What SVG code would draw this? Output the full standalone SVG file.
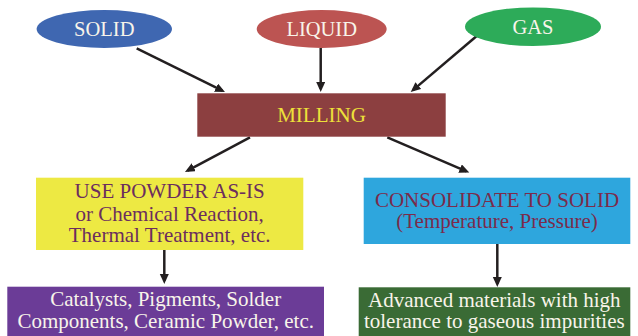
<svg xmlns="http://www.w3.org/2000/svg" width="638" height="336" viewBox="0 0 638 336">
  <style>
    text { font-family: 'Liberation Serif', 'DejaVu Serif', serif; text-anchor: middle; }
    .lbl { font-size: 20.5px; fill: #F8F4EA; }
    .dark { font-size: 21px; }
    .conn { stroke: #231F20; stroke-width: 2.5; fill: none; marker-end: url(#ah); }
  </style>
  <defs>
    <marker id="ah" markerUnits="userSpaceOnUse" markerWidth="12" markerHeight="10" refX="7" refY="4.5" orient="auto">
      <path d="M0,0 L10,4.5 L0,9 Z" fill="#231F20"/>
    </marker>
  </defs>
  <rect width="638" height="336" fill="#FFFFFF"/>

  <g id="connectors">
    <path class="conn" d="M136.7,48.3 L222.3,90.7"/>
    <path class="conn" d="M320.7,48 L320.7,89"/>
    <path class="conn" d="M476.7,36 L413,90.1"/>
    <path class="conn" d="M250,137.3 L187.6,170.6"/>
    <path class="conn" d="M387.3,137.3 L466.5,171.3"/>
    <path class="conn" d="M164.3,250 L164.3,281"/>
    <path class="conn" d="M497.3,244 L497.3,284"/>
  </g>

  <g id="solid">
    <ellipse cx="104.3" cy="29" rx="67.7" ry="19" fill="#3F67B1"/>
    <text class="lbl" x="104.3" y="36" font-family="Liberation Serif, serif">SOLID</text>
  </g>
  <g id="liquid">
    <ellipse cx="321.7" cy="29" rx="65" ry="19" fill="#BC5452"/>
    <text class="lbl" x="321.7" y="36">LIQUID</text>
  </g>
  <g id="gas">
    <ellipse cx="533" cy="26.7" rx="68" ry="19.3" fill="#2DAB59"/>
    <text class="lbl" x="533" y="33.5">GAS</text>
  </g>

  <g id="milling">
    <rect x="197.3" y="93.3" width="248.4" height="43.4" fill="#8C3F40"/>
    <text class="dark" x="321.5" y="121.7" fill="#EDE03A">MILLING</text>
  </g>

  <g id="use-powder">
    <rect x="36" y="177.7" width="267.3" height="72.3" fill="#EDE943"/>
    <text class="dark" x="169.7" y="197.8" fill="#6B2D5E">USE POWDER AS-IS</text>
    <text class="dark" x="169.7" y="220.5" fill="#6B2D5E">or Chemical Reaction,</text>
    <text class="dark" x="169.7" y="242" fill="#6B2D5E">Thermal Treatment, etc.</text>
  </g>

  <g id="consolidate">
    <rect x="363.7" y="177.7" width="266.6" height="66.3" fill="#2EA6DD"/>
    <text class="dark" x="497" y="207.3" fill="#7B2B4B">CONSOLIDATE TO SOLID</text>
    <text class="dark" x="497" y="228.3" fill="#7B2B4B">(Temperature, Pressure)</text>
  </g>

  <g id="catalysts">
    <rect x="7.3" y="286.7" width="316.7" height="49.3" fill="#6B3C97"/>
    <text class="dark" x="165.7" y="306" fill="#F8F4EA">Catalysts, Pigments, Solder</text>
    <text class="dark" x="165.7" y="328.3" fill="#F8F4EA">Components, Ceramic Powder, etc.</text>
  </g>

  <g id="advanced">
    <rect x="358.7" y="287.3" width="271.6" height="48.7" fill="#3A6B35"/>
    <text class="dark" x="494.3" y="307.3" fill="#F8F4EA">Advanced materials with high</text>
    <text class="dark" x="494.3" y="327.5" fill="#F8F4EA">tolerance to gaseous impurities</text>
  </g>
</svg>
